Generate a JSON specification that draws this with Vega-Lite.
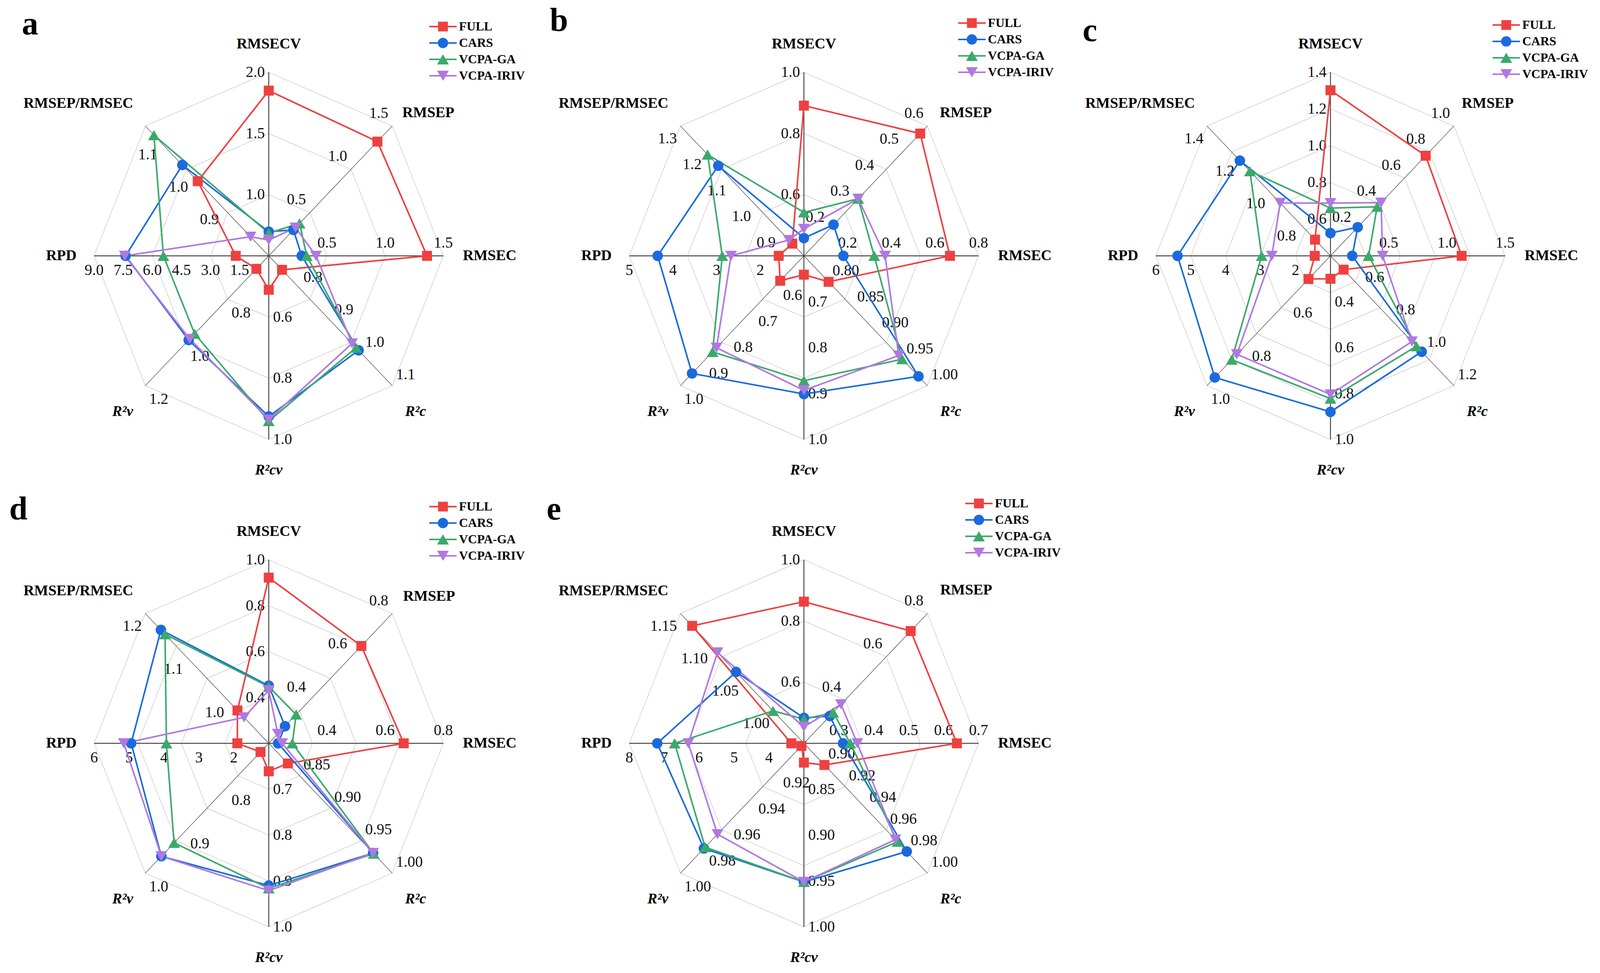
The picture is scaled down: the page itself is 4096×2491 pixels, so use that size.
{
"$schema":"https://vega.github.io/schema/vega-lite/v6.json",
"padding":0,
"background":"#ffffff",
"spacing":0,
"columns":3,
"bounds":"flush",
"config":{"view":{"stroke":null}},
"resolve":{"scale":{"stroke":"independent","fill":"independent","shape":"independent"},"legend":{"stroke":"independent","fill":"independent","shape":"independent"}},
"datasets":{
"axes":[
{"id":"a:RMSECV","p":"a","i":0,"name":"RMSECV","lo":0.5,"hi":2.0,"lv":[1,2,3]},
{"id":"a:RMSEP","p":"a","i":1,"name":"RMSEP","lo":0,"hi":1.5,"lv":[1,2,3]},
{"id":"a:RMSEC","p":"a","i":2,"name":"RMSEC","lo":0,"hi":1.5,"lv":[1,2,3]},
{"id":"a:R2c","p":"a","i":3,"name":"R²c","lo":0.7,"hi":1.1,"lv":[1,2,3]},
{"id":"a:R2cv","p":"a","i":4,"name":"R²cv","lo":0.4,"hi":1.0,"lv":[1,2,3]},
{"id":"a:R2v","p":"a","i":5,"name":"R²v","lo":0.6,"hi":1.2,"lv":[1,2,3]},
{"id":"a:RPD","p":"a","i":6,"name":"RPD","lo":0,"hi":9,"lv":[1,2,3]},
{"id":"a:RMSEP/RMSEC","p":"a","i":7,"name":"RMSEP/RMSEC","lo":0.75,"hi":1.15,"lv":[1,2,3]},
{"id":"b:RMSECV","p":"b","i":0,"name":"RMSECV","lo":0.4,"hi":1.0,"lv":[1,2,3]},
{"id":"b:RMSEP","p":"b","i":1,"name":"RMSEP","lo":0.1,"hi":0.6,"lv":[1,2,3]},
{"id":"b:RMSEC","p":"b","i":2,"name":"RMSEC","lo":0,"hi":0.8,"lv":[1,2,3]},
{"id":"b:R2c","p":"b","i":3,"name":"R²c","lo":0.75,"hi":1.0,"lv":[1,2,3]},
{"id":"b:R2cv","p":"b","i":4,"name":"R²cv","lo":0.6,"hi":1.0,"lv":[1,2,3]},
{"id":"b:R2v","p":"b","i":5,"name":"R²v","lo":0.5,"hi":1.0,"lv":[1,2,3]},
{"id":"b:RPD","p":"b","i":6,"name":"RPD","lo":1,"hi":5,"lv":[1,2,3]},
{"id":"b:RMSEP/RMSEC","p":"b","i":7,"name":"RMSEP/RMSEC","lo":0.8,"hi":1.3,"lv":[1,2,3]},
{"id":"c:RMSECV","p":"c","i":0,"name":"RMSECV","lo":0.4,"hi":1.4,"lv":[1,2,3,4,5]},
{"id":"c:RMSEP","p":"c","i":1,"name":"RMSEP","lo":0,"hi":1.0,"lv":[1,2,3,4,5]},
{"id":"c:RMSEC","p":"c","i":2,"name":"RMSEC","lo":0,"hi":1.5,"lv":[1,2,3,4,5]},
{"id":"c:R2c","p":"c","i":3,"name":"R²c","lo":0.4,"hi":1.2,"lv":[1,2,3,4,5]},
{"id":"c:R2cv","p":"c","i":4,"name":"R²cv","lo":0.2,"hi":1.0,"lv":[1,2,3,4,5]},
{"id":"c:R2v","p":"c","i":5,"name":"R²v","lo":0.4,"hi":1.0,"lv":[1,2,3,4,5]},
{"id":"c:RPD","p":"c","i":6,"name":"RPD","lo":1,"hi":6,"lv":[1,2,3,4,5]},
{"id":"c:RMSEP/RMSEC","p":"c","i":7,"name":"RMSEP/RMSEC","lo":0.6,"hi":1.4,"lv":[1,2,3,4,5]},
{"id":"d:RMSECV","p":"d","i":0,"name":"RMSECV","lo":0.2,"hi":1.0,"lv":[1,2,3,4]},
{"id":"d:RMSEP","p":"d","i":1,"name":"RMSEP","lo":0.2,"hi":0.8,"lv":[1,2,3,4]},
{"id":"d:RMSEC","p":"d","i":2,"name":"RMSEC","lo":0.2,"hi":0.8,"lv":[1,2,3,4]},
{"id":"d:R2c","p":"d","i":3,"name":"R²c","lo":0.8,"hi":1.0,"lv":[1,2,3,4]},
{"id":"d:R2cv","p":"d","i":4,"name":"R²cv","lo":0.6,"hi":1.0,"lv":[1,2,3,4]},
{"id":"d:R2v","p":"d","i":5,"name":"R²v","lo":0.7,"hi":1.0,"lv":[1,2,3,4]},
{"id":"d:RPD","p":"d","i":6,"name":"RPD","lo":1,"hi":6,"lv":[1,2,3,4]},
{"id":"d:RMSEP/RMSEC","p":"d","i":7,"name":"RMSEP/RMSEC","lo":0.9,"hi":1.2,"lv":[1,2,3,4]},
{"id":"e:RMSECV","p":"e","i":0,"name":"RMSECV","lo":0.4,"hi":1.0,"lv":[1,2,3]},
{"id":"e:RMSEP","p":"e","i":1,"name":"RMSEP","lo":0.2,"hi":0.8,"lv":[1,2,3]},
{"id":"e:RMSEC","p":"e","i":2,"name":"RMSEC","lo":0.2,"hi":0.7,"lv":[1,2,3]},
{"id":"e:R2c","p":"e","i":3,"name":"R²c","lo":0.88,"hi":1.0,"lv":[1,2,3]},
{"id":"e:R2cv","p":"e","i":4,"name":"R²cv","lo":0.8,"hi":1.0,"lv":[1,2,3]},
{"id":"e:R2v","p":"e","i":5,"name":"R²v","lo":0.9,"hi":1.0,"lv":[1,2,3]},
{"id":"e:RPD","p":"e","i":6,"name":"RPD","lo":3,"hi":8,"lv":[1,2,3]},
{"id":"e:RMSEP/RMSEC","p":"e","i":7,"name":"RMSEP/RMSEC","lo":0.95,"hi":1.15,"lv":[1,2,3]}
],
"ticks":[
{"p":"a","f":"RMSECV","t":["1.0","1.5","2.0"]},
{"p":"a","f":"RMSEP","t":["0.5","1.0","1.5"]},
{"p":"a","f":"RMSEC","t":["0.5","1.0","1.5"]},
{"p":"a","f":"R2c","t":["0.8","0.9","1.0","1.1"]},
{"p":"a","f":"R2cv","t":["0.6","0.8","1.0"]},
{"p":"a","f":"R2v","t":["0.8","1.0","1.2"]},
{"p":"a","f":"RPD","t":["1.5","3.0","4.5","6.0","7.5","9.0"]},
{"p":"a","f":"RMSEP/RMSEC","t":["0.9","1.0","1.1"]},
{"p":"b","f":"RMSECV","t":["0.6","0.8","1.0"]},
{"p":"b","f":"RMSEP","t":["0.2","0.3","0.4","0.5","0.6"]},
{"p":"b","f":"RMSEC","t":["0.2","0.4","0.6","0.8"]},
{"p":"b","f":"R2c","t":["0.80","0.85","0.90","0.95","1.00"]},
{"p":"b","f":"R2cv","t":["0.7","0.8","0.9","1.0"]},
{"p":"b","f":"R2v","t":["0.6","0.7","0.8","0.9","1.0"]},
{"p":"b","f":"RPD","t":["2","3","4","5"]},
{"p":"b","f":"RMSEP/RMSEC","t":["0.9","1.0","1.1","1.2","1.3"]},
{"p":"c","f":"RMSECV","t":["0.6","0.8","1.0","1.2","1.4"]},
{"p":"c","f":"RMSEP","t":["0.2","0.4","0.6","0.8","1.0"]},
{"p":"c","f":"RMSEC","t":["0.5","1.0","1.5"]},
{"p":"c","f":"R2c","t":["0.6","0.8","1.0","1.2"]},
{"p":"c","f":"R2cv","t":["0.4","0.6","0.8","1.0"]},
{"p":"c","f":"R2v","t":["0.6","0.8","1.0"]},
{"p":"c","f":"RPD","t":["2","3","4","5","6"]},
{"p":"c","f":"RMSEP/RMSEC","t":["0.8","1.0","1.2","1.4"]},
{"p":"d","f":"RMSECV","t":["0.4","0.6","0.8","1.0"]},
{"p":"d","f":"RMSEP","t":["0.4","0.6","0.8"]},
{"p":"d","f":"RMSEC","t":["0.4","0.6","0.8"]},
{"p":"d","f":"R2c","t":["0.85","0.90","0.95","1.00"]},
{"p":"d","f":"R2cv","t":["0.7","0.8","0.9","1.0"]},
{"p":"d","f":"R2v","t":["0.8","0.9","1.0"]},
{"p":"d","f":"RPD","t":["2","3","4","5","6"]},
{"p":"d","f":"RMSEP/RMSEC","t":["1.0","1.1","1.2"]},
{"p":"e","f":"RMSECV","t":["0.6","0.8","1.0"]},
{"p":"e","f":"RMSEP","t":["0.4","0.6","0.8"]},
{"p":"e","f":"RMSEC","t":["0.3","0.4","0.5","0.6","0.7"]},
{"p":"e","f":"R2c","t":["0.90","0.92","0.94","0.96","0.98","1.00"]},
{"p":"e","f":"R2cv","t":["0.85","0.90","0.95","1.00"]},
{"p":"e","f":"R2v","t":["0.92","0.94","0.96","0.98","1.00"]},
{"p":"e","f":"RPD","t":["4","5","6","7","8"]},
{"p":"e","f":"RMSEP/RMSEC","t":["1.00","1.05","1.10","1.15"]}
],
"metrics":[
{"p":"a","m":"FULL","RMSECV":1.85,"RMSEP":1.32,"RMSEC":1.36,"R2c":0.743,"R2cv":0.511,"R2v":0.66,"RPD":1.70,"RMSEP/RMSEC":0.98},
{"p":"a","m":"CARS","RMSECV":0.697,"RMSEP":0.30,"RMSEC":0.283,"R2c":0.991,"R2cv":0.925,"R2v":0.989,"RPD":7.38,"RMSEP/RMSEC":1.03},
{"p":"a","m":"VCPA-GA","RMSECV":0.686,"RMSEP":0.375,"RMSEC":0.326,"R2c":0.983,"R2cv":0.94,"R2v":0.96,"RPD":5.43,"RMSEP/RMSEC":1.122},
{"p":"a","m":"VCPA-IRIV","RMSECV":0.629,"RMSEP":0.326,"RMSEC":0.406,"R2c":0.970,"R2cv":0.935,"R2v":0.984,"RPD":7.42,"RMSEP/RMSEC":0.809},
{"p":"b","m":"FULL","RMSECV":0.891,"RMSEP":0.571,"RMSEC":0.669,"R2c":0.80,"R2cv":0.641,"R2v":0.596,"RPD":1.577,"RMSEP/RMSEC":0.847},
{"p":"b","m":"CARS","RMSECV":0.458,"RMSEP":0.22,"RMSEC":0.181,"R2c":0.982,"R2cv":0.901,"R2v":0.953,"RPD":4.35,"RMSEP/RMSEC":1.147},
{"p":"b","m":"VCPA-GA","RMSECV":0.542,"RMSEP":0.32,"RMSEC":0.322,"R2c":0.949,"R2cv":0.872,"R2v":0.87,"RPD":2.87,"RMSEP/RMSEC":1.19},
{"p":"b","m":"VCPA-IRIV","RMSECV":0.488,"RMSEP":0.32,"RMSEC":0.372,"R2c":0.942,"R2cv":0.893,"R2v":0.854,"RPD":2.67,"RMSEP/RMSEC":0.861},
{"p":"c","m":"FULL","RMSECV":1.302,"RMSEP":0.771,"RMSEC":1.127,"R2c":0.485,"R2cv":0.30,"R2v":0.507,"RPD":1.45,"RMSEP/RMSEC":0.70},
{"p":"c","m":"CARS","RMSECV":0.524,"RMSEP":0.221,"RMSEC":0.187,"R2c":0.991,"R2cv":0.88,"R2v":0.962,"RPD":5.38,"RMSEP/RMSEC":1.187},
{"p":"c","m":"VCPA-GA","RMSECV":0.66,"RMSEP":0.378,"RMSEC":0.328,"R2c":0.957,"R2cv":0.822,"R2v":0.88,"RPD":2.97,"RMSEP/RMSEC":1.122},
{"p":"c","m":"VCPA-IRIV","RMSECV":0.687,"RMSEP":0.41,"RMSEC":0.448,"R2c":0.928,"R2cv":0.804,"R2v":0.855,"RPD":2.68,"RMSEP/RMSEC":0.926},
{"p":"d","m":"FULL","RMSECV":0.922,"RMSEP":0.65,"RMSEC":0.664,"R2c":0.831,"R2cv":0.661,"R2v":0.72,"RPD":1.9,"RMSEP/RMSEC":0.976},
{"p":"d","m":"CARS","RMSECV":0.451,"RMSEP":0.279,"RMSEC":0.232,"R2c":0.969,"R2cv":0.91,"R2v":0.961,"RPD":4.94,"RMSEP/RMSEC":1.162},
{"p":"d","m":"VCPA-GA","RMSECV":0.447,"RMSEP":0.333,"RMSEC":0.281,"R2c":0.97,"R2cv":0.916,"R2v":0.93,"RPD":3.93,"RMSEP/RMSEC":1.152},
{"p":"d","m":"VCPA-IRIV","RMSECV":0.431,"RMSEP":0.244,"RMSEC":0.246,"R2c":0.969,"R2cv":0.921,"R2v":0.961,"RPD":5.15,"RMSEP/RMSEC":0.96},
{"p":"e","m":"FULL","RMSECV":0.863,"RMSEP":0.719,"RMSEC":0.638,"R2c":0.90,"R2cv":0.821,"R2v":0.902,"RPD":3.36,"RMSEP/RMSEC":1.131},
{"p":"e","m":"CARS","RMSECV":0.483,"RMSEP":0.326,"RMSEC":0.312,"R2c":0.98,"R2cv":0.951,"R2v":0.981,"RPD":7.2,"RMSEP/RMSEC":1.06},
{"p":"e","m":"VCPA-GA","RMSECV":0.479,"RMSEP":0.342,"RMSEC":0.333,"R2c":0.971,"R2cv":0.951,"R2v":0.98,"RPD":6.7,"RMSEP/RMSEC":1.0},
{"p":"e","m":"VCPA-IRIV","RMSECV":0.454,"RMSEP":0.38,"RMSEC":0.353,"R2c":0.969,"R2cv":0.951,"R2v":0.97,"RPD":6.31,"RMSEP/RMSEC":1.09}
]
},
"concat":[
{"width":1370,"height":1248,
"encoding":{"x":{"field":"x","type":"quantitative","scale":{"domain":[-1.53915,1.52573],"nice":false,"zero":false},"axis":null},"y":{"field":"y","type":"quantitative","scale":{"domain":[-1.2617,1.39362],"nice":false,"zero":false},"axis":null}},
"layer":[
{"data":{"name":"axes"},"transform":[{"filter":"datum.p === 'a'"},{"flatten":["lv"]},{"joinaggregate":[{"op":"max","field":"lv","as":"g"}]},{"calculate":"datum.lv / datum.g * sin(datum.i * PI / 4)","as":"x"},{"calculate":"datum.lv / datum.g * cos(datum.i * PI / 4)","as":"y"}],"mark":{"type":"line","interpolate":"linear-closed","stroke":"#c6c6c6","strokeWidth":1.3},"encoding":{"detail":{"field":"lv","type":"nominal"},"order":{"field":"i","type":"quantitative"}}},
{"data":{"name":"axes"},"transform":[{"filter":"datum.p === 'a'"},{"calculate":"sin(datum.i * PI / 4)","as":"x"},{"calculate":"cos(datum.i * PI / 4)","as":"y"}],"mark":{"type":"rule","color":"#444444"},"encoding":{"x2":{"datum":0},"y2":{"datum":0},"strokeWidth":{"condition":{"test":"datum.i % 2 === 0","value":2.4},"value":1.3}}},
{"data":{"name":"ticks"},"transform":[{"filter":"datum.p === 'a'"},{"flatten":["t"]},{"calculate":"datum.p + ':' + datum.f","as":"id"},{"lookup":"id","from":{"data":{"name":"axes"},"key":"id","fields":["i","lo","hi"]}},{"calculate":"(toNumber(datum.t) - datum.lo) / (datum.hi - datum.lo)","as":"r"},{"calculate":"[-10,-10,0,10,11,10,0,-9][datum.i]","as":"ox"},{"calculate":"[0,-33,-33,-28,0,35,37,32][datum.i]","as":"oy"},{"calculate":"datum.r * sin(datum.i * PI / 4) + datum.ox / 447","as":"x"},{"calculate":"datum.r * cos(datum.i * PI / 4) - datum.oy / 470","as":"y"}],"encoding":{"text":{"field":"t","type":"nominal"}},"layer":[
{"transform":[{"filter":"datum.i === 0 || datum.i === 1 || datum.i === 7"}],"mark":{"type":"text","align":"right","baseline":"middle","font":"Liberation Serif","fontSize":39,"color":"#111111"}},
{"transform":[{"filter":"datum.i === 3 || datum.i === 4 || datum.i === 5"}],"mark":{"type":"text","align":"left","baseline":"middle","font":"Liberation Serif","fontSize":39,"color":"#111111"}},
{"transform":[{"filter":"datum.i === 2 || datum.i === 6"}],"mark":{"type":"text","align":"center","baseline":"middle","font":"Liberation Serif","fontSize":39,"color":"#111111"}}]},
{"data":{"name":"axes"},"transform":[{"filter":"datum.p === 'a'"},{"calculate":"[0,26,50,33,0,-31,-45,-31][datum.i]","as":"ox"},{"calculate":"[-72,-34,0,67,79,67,0,-58][datum.i]","as":"oy"},{"calculate":"sin(datum.i * PI / 4) + datum.ox / 447","as":"x"},{"calculate":"cos(datum.i * PI / 4) - datum.oy / 470","as":"y"}],"encoding":{"text":{"field":"name","type":"nominal"}},"layer":[
{"transform":[{"filter":"datum.i === 0"}],"mark":{"type":"text","align":"center","baseline":"middle","font":"Liberation Serif","fontSize":38,"fontWeight":"bold","color":"#000000"}},
{"transform":[{"filter":"datum.i === 4"}],"mark":{"type":"text","align":"center","baseline":"middle","font":"Liberation Serif","fontSize":38,"fontWeight":"bold","fontStyle":"italic","color":"#000000"}},
{"transform":[{"filter":"datum.i === 1 || datum.i === 2"}],"mark":{"type":"text","align":"left","baseline":"middle","font":"Liberation Serif","fontSize":38,"fontWeight":"bold","color":"#000000"}},
{"transform":[{"filter":"datum.i === 3"}],"mark":{"type":"text","align":"left","baseline":"middle","font":"Liberation Serif","fontSize":38,"fontWeight":"bold","fontStyle":"italic","color":"#000000"}},
{"transform":[{"filter":"datum.i === 6 || datum.i === 7"}],"mark":{"type":"text","align":"right","baseline":"middle","font":"Liberation Serif","fontSize":38,"fontWeight":"bold","color":"#000000"}},
{"transform":[{"filter":"datum.i === 5"}],"mark":{"type":"text","align":"right","baseline":"middle","font":"Liberation Serif","fontSize":38,"fontWeight":"bold","fontStyle":"italic","color":"#000000"}}]},
{"data":{"values":[{"t":"a"}]},"transform":[{"calculate":"-1.367","as":"x"},{"calculate":"1.206","as":"y"}],"mark":{"type":"text","font":"Liberation Serif","fontSize":84,"fontWeight":"bold","align":"center","baseline":"alphabetic","color":"#000000"},"encoding":{"text":{"field":"t","type":"nominal"}}},
{"data":{"name":"metrics"},"transform":[{"filter":"datum.p === 'a'"},{"fold":["RMSECV","RMSEP","RMSEC","R2c","R2cv","R2v","RPD","RMSEP/RMSEC"],"as":["f","v"]},{"calculate":"datum.p + ':' + datum.f","as":"id"},{"lookup":"id","from":{"data":{"name":"axes"},"key":"id","fields":["i","lo","hi"]}},{"calculate":"(datum.v - datum.lo) / (datum.hi - datum.lo)","as":"r"},{"calculate":"datum.r * sin(datum.i * PI / 4)","as":"x"},{"calculate":"datum.r * cos(datum.i * PI / 4)","as":"y"}],"layer":[
{"mark":{"type":"point","filled":true,"opacity":0,"size":4900},"encoding":{"fill":{"field":"m","type":"nominal","title":null,"scale":{"domain":["FULL","CARS","VCPA-GA","VCPA-IRIV"],"range":["#EF4040","#1A6ADE","#3AAA6A","#B078E0"]},"legend":{"orient":"none","legendX":1099,"legendY":52,"symbolSize":4900,"symbolStrokeWidth":0,"symbolOpacity":1,"clipHeight":32,"labelFont":"Liberation Serif","labelFontSize":32,"labelFontWeight":"bold","labelColor":"#000000","labelOffset":6,"labelLimit":0,"rowPadding":10,"padding":0}},"shape":{"field":"m","type":"nominal","title":null,"scale":{"domain":["FULL","CARS","VCPA-GA","VCPA-IRIV"],"range":["M-1,-0.057H1V0.057H-1Z M-0.36,-0.36H0.36V0.36H-0.36Z","M-1,-0.057H1V0.057H-1Z M-0.38,0A0.38,0.38 0 1,1 0.38,0A0.38,0.38 0 1,1 -0.38,0Z","M-1,-0.057H1V0.057H-1Z M0,-0.37L0.43,0.37L-0.43,0.37Z","M-1,-0.057H1V0.057H-1Z M0,0.37L-0.43,-0.37L0.43,-0.37Z"]},"legend":{"orient":"none","legendX":1099,"legendY":52,"symbolSize":4900,"symbolStrokeWidth":0,"symbolOpacity":1,"clipHeight":32,"labelFont":"Liberation Serif","labelFontSize":32,"labelFontWeight":"bold","labelColor":"#000000","labelOffset":6,"labelLimit":0,"rowPadding":10,"padding":0}}}},
{"mark":{"type":"line","interpolate":"linear-closed","strokeWidth":4},"encoding":{"stroke":{"field":"m","type":"nominal","scale":{"domain":["FULL","CARS","VCPA-GA","VCPA-IRIV"],"range":["#EF4040","#1A6ADE","#3AAA6A","#B078E0"]},"legend":null},"order":{"field":"i","type":"quantitative"}}},
{"transform":[{"filter":"datum.m === 'FULL'"}],"mark":{"type":"point","shape":"square","filled":true,"opacity":1,"size":650,"color":"#EF4040","strokeWidth":0}},
{"transform":[{"filter":"datum.m === 'CARS'"}],"mark":{"type":"point","shape":"circle","filled":true,"opacity":1,"size":720,"color":"#1A6ADE","strokeWidth":0}},
{"transform":[{"filter":"datum.m === 'VCPA-GA'"}],"mark":{"type":"point","shape":"triangle-up","filled":true,"opacity":1,"size":900,"color":"#3AAA6A","strokeWidth":0}},
{"transform":[{"filter":"datum.m === 'VCPA-IRIV'"}],"mark":{"type":"point","shape":"triangle-down","filled":true,"opacity":1,"size":900,"color":"#B078E0","strokeWidth":0}}]}
]},
{"width":1348,"height":1248,
"encoding":{"x":{"field":"x","type":"quantitative","scale":{"domain":[-1.53915,1.47651],"nice":false,"zero":false},"axis":null},"y":{"field":"y","type":"quantitative","scale":{"domain":[-1.2617,1.39362],"nice":false,"zero":false},"axis":null}},
"layer":[
{"data":{"name":"axes"},"transform":[{"filter":"datum.p === 'b'"},{"flatten":["lv"]},{"joinaggregate":[{"op":"max","field":"lv","as":"g"}]},{"calculate":"datum.lv / datum.g * sin(datum.i * PI / 4)","as":"x"},{"calculate":"datum.lv / datum.g * cos(datum.i * PI / 4)","as":"y"}],"mark":{"type":"line","interpolate":"linear-closed","stroke":"#c6c6c6","strokeWidth":1.3},"encoding":{"detail":{"field":"lv","type":"nominal"},"order":{"field":"i","type":"quantitative"}}},
{"data":{"name":"axes"},"transform":[{"filter":"datum.p === 'b'"},{"calculate":"sin(datum.i * PI / 4)","as":"x"},{"calculate":"cos(datum.i * PI / 4)","as":"y"}],"mark":{"type":"rule","color":"#444444"},"encoding":{"x2":{"datum":0},"y2":{"datum":0},"strokeWidth":{"condition":{"test":"datum.i % 2 === 0","value":2.4},"value":1.3}}},
{"data":{"name":"ticks"},"transform":[{"filter":"datum.p === 'b'"},{"flatten":["t"]},{"calculate":"datum.p + ':' + datum.f","as":"id"},{"lookup":"id","from":{"data":{"name":"axes"},"key":"id","fields":["i","lo","hi"]}},{"calculate":"(toNumber(datum.t) - datum.lo) / (datum.hi - datum.lo)","as":"r"},{"calculate":"[-10,-10,0,10,11,10,0,-9][datum.i]","as":"ox"},{"calculate":"[0,-33,-33,-28,0,35,37,32][datum.i]","as":"oy"},{"calculate":"datum.r * sin(datum.i * PI / 4) + datum.ox / 447","as":"x"},{"calculate":"datum.r * cos(datum.i * PI / 4) - datum.oy / 470","as":"y"}],"encoding":{"text":{"field":"t","type":"nominal"}},"layer":[
{"transform":[{"filter":"datum.i === 0 || datum.i === 1 || datum.i === 7"}],"mark":{"type":"text","align":"right","baseline":"middle","font":"Liberation Serif","fontSize":39,"color":"#111111"}},
{"transform":[{"filter":"datum.i === 3 || datum.i === 4 || datum.i === 5"}],"mark":{"type":"text","align":"left","baseline":"middle","font":"Liberation Serif","fontSize":39,"color":"#111111"}},
{"transform":[{"filter":"datum.i === 2 || datum.i === 6"}],"mark":{"type":"text","align":"center","baseline":"middle","font":"Liberation Serif","fontSize":39,"color":"#111111"}}]},
{"data":{"name":"axes"},"transform":[{"filter":"datum.p === 'b'"},{"calculate":"[0,32,50,33,0,-31,-45,-31][datum.i]","as":"ox"},{"calculate":"[-72,-34,0,67,79,67,0,-58][datum.i]","as":"oy"},{"calculate":"sin(datum.i * PI / 4) + datum.ox / 447","as":"x"},{"calculate":"cos(datum.i * PI / 4) - datum.oy / 470","as":"y"}],"encoding":{"text":{"field":"name","type":"nominal"}},"layer":[
{"transform":[{"filter":"datum.i === 0"}],"mark":{"type":"text","align":"center","baseline":"middle","font":"Liberation Serif","fontSize":38,"fontWeight":"bold","color":"#000000"}},
{"transform":[{"filter":"datum.i === 4"}],"mark":{"type":"text","align":"center","baseline":"middle","font":"Liberation Serif","fontSize":38,"fontWeight":"bold","fontStyle":"italic","color":"#000000"}},
{"transform":[{"filter":"datum.i === 1 || datum.i === 2"}],"mark":{"type":"text","align":"left","baseline":"middle","font":"Liberation Serif","fontSize":38,"fontWeight":"bold","color":"#000000"}},
{"transform":[{"filter":"datum.i === 3"}],"mark":{"type":"text","align":"left","baseline":"middle","font":"Liberation Serif","fontSize":38,"fontWeight":"bold","fontStyle":"italic","color":"#000000"}},
{"transform":[{"filter":"datum.i === 6 || datum.i === 7"}],"mark":{"type":"text","align":"right","baseline":"middle","font":"Liberation Serif","fontSize":38,"fontWeight":"bold","color":"#000000"}},
{"transform":[{"filter":"datum.i === 5"}],"mark":{"type":"text","align":"right","baseline":"middle","font":"Liberation Serif","fontSize":38,"fontWeight":"bold","fontStyle":"italic","color":"#000000"}}]},
{"data":{"values":[{"t":"b"}]},"transform":[{"calculate":"-1.403","as":"x"},{"calculate":"1.225","as":"y"}],"mark":{"type":"text","font":"Liberation Serif","fontSize":84,"fontWeight":"bold","align":"center","baseline":"alphabetic","color":"#000000"},"encoding":{"text":{"field":"t","type":"nominal"}}},
{"data":{"name":"metrics"},"transform":[{"filter":"datum.p === 'b'"},{"fold":["RMSECV","RMSEP","RMSEC","R2c","R2cv","R2v","RPD","RMSEP/RMSEC"],"as":["f","v"]},{"calculate":"datum.p + ':' + datum.f","as":"id"},{"lookup":"id","from":{"data":{"name":"axes"},"key":"id","fields":["i","lo","hi"]}},{"calculate":"(datum.v - datum.lo) / (datum.hi - datum.lo)","as":"r"},{"calculate":"datum.r * sin(datum.i * PI / 4)","as":"x"},{"calculate":"datum.r * cos(datum.i * PI / 4)","as":"y"}],"layer":[
{"mark":{"type":"point","filled":true,"opacity":0,"size":4900},"encoding":{"fill":{"field":"m","type":"nominal","title":null,"scale":{"domain":["FULL","CARS","VCPA-GA","VCPA-IRIV"],"range":["#EF4040","#1A6ADE","#3AAA6A","#B078E0"]},"legend":{"orient":"none","legendX":1083,"legendY":43,"symbolSize":4900,"symbolStrokeWidth":0,"symbolOpacity":1,"clipHeight":32,"labelFont":"Liberation Serif","labelFontSize":32,"labelFontWeight":"bold","labelColor":"#000000","labelOffset":6,"labelLimit":0,"rowPadding":10,"padding":0}},"shape":{"field":"m","type":"nominal","title":null,"scale":{"domain":["FULL","CARS","VCPA-GA","VCPA-IRIV"],"range":["M-1,-0.057H1V0.057H-1Z M-0.36,-0.36H0.36V0.36H-0.36Z","M-1,-0.057H1V0.057H-1Z M-0.38,0A0.38,0.38 0 1,1 0.38,0A0.38,0.38 0 1,1 -0.38,0Z","M-1,-0.057H1V0.057H-1Z M0,-0.37L0.43,0.37L-0.43,0.37Z","M-1,-0.057H1V0.057H-1Z M0,0.37L-0.43,-0.37L0.43,-0.37Z"]},"legend":{"orient":"none","legendX":1083,"legendY":43,"symbolSize":4900,"symbolStrokeWidth":0,"symbolOpacity":1,"clipHeight":32,"labelFont":"Liberation Serif","labelFontSize":32,"labelFontWeight":"bold","labelColor":"#000000","labelOffset":6,"labelLimit":0,"rowPadding":10,"padding":0}}}},
{"mark":{"type":"line","interpolate":"linear-closed","strokeWidth":4},"encoding":{"stroke":{"field":"m","type":"nominal","scale":{"domain":["FULL","CARS","VCPA-GA","VCPA-IRIV"],"range":["#EF4040","#1A6ADE","#3AAA6A","#B078E0"]},"legend":null},"order":{"field":"i","type":"quantitative"}}},
{"transform":[{"filter":"datum.m === 'FULL'"}],"mark":{"type":"point","shape":"square","filled":true,"opacity":1,"size":650,"color":"#EF4040","strokeWidth":0}},
{"transform":[{"filter":"datum.m === 'CARS'"}],"mark":{"type":"point","shape":"circle","filled":true,"opacity":1,"size":720,"color":"#1A6ADE","strokeWidth":0}},
{"transform":[{"filter":"datum.m === 'VCPA-GA'"}],"mark":{"type":"point","shape":"triangle-up","filled":true,"opacity":1,"size":900,"color":"#3AAA6A","strokeWidth":0}},
{"transform":[{"filter":"datum.m === 'VCPA-IRIV'"}],"mark":{"type":"point","shape":"triangle-down","filled":true,"opacity":1,"size":900,"color":"#B078E0","strokeWidth":0}}]}
]},
{"width":1378,"height":1248,
"encoding":{"x":{"field":"x","type":"quantitative","scale":{"domain":[-1.53915,1.54362],"nice":false,"zero":false},"axis":null},"y":{"field":"y","type":"quantitative","scale":{"domain":[-1.2617,1.39362],"nice":false,"zero":false},"axis":null}},
"layer":[
{"data":{"name":"axes"},"transform":[{"filter":"datum.p === 'c'"},{"flatten":["lv"]},{"joinaggregate":[{"op":"max","field":"lv","as":"g"}]},{"calculate":"datum.lv / datum.g * sin(datum.i * PI / 4)","as":"x"},{"calculate":"datum.lv / datum.g * cos(datum.i * PI / 4)","as":"y"}],"mark":{"type":"line","interpolate":"linear-closed","stroke":"#c6c6c6","strokeWidth":1.3},"encoding":{"detail":{"field":"lv","type":"nominal"},"order":{"field":"i","type":"quantitative"}}},
{"data":{"name":"axes"},"transform":[{"filter":"datum.p === 'c'"},{"calculate":"sin(datum.i * PI / 4)","as":"x"},{"calculate":"cos(datum.i * PI / 4)","as":"y"}],"mark":{"type":"rule","color":"#444444"},"encoding":{"x2":{"datum":0},"y2":{"datum":0},"strokeWidth":{"condition":{"test":"datum.i % 2 === 0","value":2.4},"value":1.3}}},
{"data":{"name":"ticks"},"transform":[{"filter":"datum.p === 'c'"},{"flatten":["t"]},{"calculate":"datum.p + ':' + datum.f","as":"id"},{"lookup":"id","from":{"data":{"name":"axes"},"key":"id","fields":["i","lo","hi"]}},{"calculate":"(toNumber(datum.t) - datum.lo) / (datum.hi - datum.lo)","as":"r"},{"calculate":"[-10,-10,0,10,11,10,0,-9][datum.i]","as":"ox"},{"calculate":"[0,-33,-33,-28,0,35,37,32][datum.i]","as":"oy"},{"calculate":"datum.r * sin(datum.i * PI / 4) + datum.ox / 447","as":"x"},{"calculate":"datum.r * cos(datum.i * PI / 4) - datum.oy / 470","as":"y"}],"encoding":{"text":{"field":"t","type":"nominal"}},"layer":[
{"transform":[{"filter":"datum.i === 0 || datum.i === 1 || datum.i === 7"}],"mark":{"type":"text","align":"right","baseline":"middle","font":"Liberation Serif","fontSize":39,"color":"#111111"}},
{"transform":[{"filter":"datum.i === 3 || datum.i === 4 || datum.i === 5"}],"mark":{"type":"text","align":"left","baseline":"middle","font":"Liberation Serif","fontSize":39,"color":"#111111"}},
{"transform":[{"filter":"datum.i === 2 || datum.i === 6"}],"mark":{"type":"text","align":"center","baseline":"middle","font":"Liberation Serif","fontSize":39,"color":"#111111"}}]},
{"data":{"name":"axes"},"transform":[{"filter":"datum.p === 'c'"},{"calculate":"[0,20,50,33,0,-31,-45,-31][datum.i]","as":"ox"},{"calculate":"[-72,-58,0,67,79,67,0,-58][datum.i]","as":"oy"},{"calculate":"sin(datum.i * PI / 4) + datum.ox / 447","as":"x"},{"calculate":"cos(datum.i * PI / 4) - datum.oy / 470","as":"y"}],"encoding":{"text":{"field":"name","type":"nominal"}},"layer":[
{"transform":[{"filter":"datum.i === 0"}],"mark":{"type":"text","align":"center","baseline":"middle","font":"Liberation Serif","fontSize":38,"fontWeight":"bold","color":"#000000"}},
{"transform":[{"filter":"datum.i === 4"}],"mark":{"type":"text","align":"center","baseline":"middle","font":"Liberation Serif","fontSize":38,"fontWeight":"bold","fontStyle":"italic","color":"#000000"}},
{"transform":[{"filter":"datum.i === 1 || datum.i === 2"}],"mark":{"type":"text","align":"left","baseline":"middle","font":"Liberation Serif","fontSize":38,"fontWeight":"bold","color":"#000000"}},
{"transform":[{"filter":"datum.i === 3"}],"mark":{"type":"text","align":"left","baseline":"middle","font":"Liberation Serif","fontSize":38,"fontWeight":"bold","fontStyle":"italic","color":"#000000"}},
{"transform":[{"filter":"datum.i === 6 || datum.i === 7"}],"mark":{"type":"text","align":"right","baseline":"middle","font":"Liberation Serif","fontSize":38,"fontWeight":"bold","color":"#000000"}},
{"transform":[{"filter":"datum.i === 5"}],"mark":{"type":"text","align":"right","baseline":"middle","font":"Liberation Serif","fontSize":38,"fontWeight":"bold","fontStyle":"italic","color":"#000000"}}]},
{"data":{"values":[{"t":"c"}]},"transform":[{"calculate":"-1.378","as":"x"},{"calculate":"1.17","as":"y"}],"mark":{"type":"text","font":"Liberation Serif","fontSize":84,"fontWeight":"bold","align":"center","baseline":"alphabetic","color":"#000000"},"encoding":{"text":{"field":"t","type":"nominal"}}},
{"data":{"name":"metrics"},"transform":[{"filter":"datum.p === 'c'"},{"fold":["RMSECV","RMSEP","RMSEC","R2c","R2cv","R2v","RPD","RMSEP/RMSEC"],"as":["f","v"]},{"calculate":"datum.p + ':' + datum.f","as":"id"},{"lookup":"id","from":{"data":{"name":"axes"},"key":"id","fields":["i","lo","hi"]}},{"calculate":"(datum.v - datum.lo) / (datum.hi - datum.lo)","as":"r"},{"calculate":"datum.r * sin(datum.i * PI / 4)","as":"x"},{"calculate":"datum.r * cos(datum.i * PI / 4)","as":"y"}],"layer":[
{"mark":{"type":"point","filled":true,"opacity":0,"size":4900},"encoding":{"fill":{"field":"m","type":"nominal","title":null,"scale":{"domain":["FULL","CARS","VCPA-GA","VCPA-IRIV"],"range":["#EF4040","#1A6ADE","#3AAA6A","#B078E0"]},"legend":{"orient":"none","legendX":1103,"legendY":48,"symbolSize":4900,"symbolStrokeWidth":0,"symbolOpacity":1,"clipHeight":32,"labelFont":"Liberation Serif","labelFontSize":32,"labelFontWeight":"bold","labelColor":"#000000","labelOffset":6,"labelLimit":0,"rowPadding":10,"padding":0}},"shape":{"field":"m","type":"nominal","title":null,"scale":{"domain":["FULL","CARS","VCPA-GA","VCPA-IRIV"],"range":["M-1,-0.057H1V0.057H-1Z M-0.36,-0.36H0.36V0.36H-0.36Z","M-1,-0.057H1V0.057H-1Z M-0.38,0A0.38,0.38 0 1,1 0.38,0A0.38,0.38 0 1,1 -0.38,0Z","M-1,-0.057H1V0.057H-1Z M0,-0.37L0.43,0.37L-0.43,0.37Z","M-1,-0.057H1V0.057H-1Z M0,0.37L-0.43,-0.37L0.43,-0.37Z"]},"legend":{"orient":"none","legendX":1103,"legendY":48,"symbolSize":4900,"symbolStrokeWidth":0,"symbolOpacity":1,"clipHeight":32,"labelFont":"Liberation Serif","labelFontSize":32,"labelFontWeight":"bold","labelColor":"#000000","labelOffset":6,"labelLimit":0,"rowPadding":10,"padding":0}}}},
{"mark":{"type":"line","interpolate":"linear-closed","strokeWidth":4},"encoding":{"stroke":{"field":"m","type":"nominal","scale":{"domain":["FULL","CARS","VCPA-GA","VCPA-IRIV"],"range":["#EF4040","#1A6ADE","#3AAA6A","#B078E0"]},"legend":null},"order":{"field":"i","type":"quantitative"}}},
{"transform":[{"filter":"datum.m === 'FULL'"}],"mark":{"type":"point","shape":"square","filled":true,"opacity":1,"size":650,"color":"#EF4040","strokeWidth":0}},
{"transform":[{"filter":"datum.m === 'CARS'"}],"mark":{"type":"point","shape":"circle","filled":true,"opacity":1,"size":720,"color":"#1A6ADE","strokeWidth":0}},
{"transform":[{"filter":"datum.m === 'VCPA-GA'"}],"mark":{"type":"point","shape":"triangle-up","filled":true,"opacity":1,"size":900,"color":"#3AAA6A","strokeWidth":0}},
{"transform":[{"filter":"datum.m === 'VCPA-IRIV'"}],"mark":{"type":"point","shape":"triangle-down","filled":true,"opacity":1,"size":900,"color":"#B078E0","strokeWidth":0}}]}
]},
{"width":1370,"height":1243,
"encoding":{"x":{"field":"x","type":"quantitative","scale":{"domain":[-1.53915,1.52573],"nice":false,"zero":false},"axis":null},"y":{"field":"y","type":"quantitative","scale":{"domain":[-1.25106,1.39362],"nice":false,"zero":false},"axis":null}},
"layer":[
{"data":{"name":"axes"},"transform":[{"filter":"datum.p === 'd'"},{"flatten":["lv"]},{"joinaggregate":[{"op":"max","field":"lv","as":"g"}]},{"calculate":"datum.lv / datum.g * sin(datum.i * PI / 4)","as":"x"},{"calculate":"datum.lv / datum.g * cos(datum.i * PI / 4)","as":"y"}],"mark":{"type":"line","interpolate":"linear-closed","stroke":"#c6c6c6","strokeWidth":1.3},"encoding":{"detail":{"field":"lv","type":"nominal"},"order":{"field":"i","type":"quantitative"}}},
{"data":{"name":"axes"},"transform":[{"filter":"datum.p === 'd'"},{"calculate":"sin(datum.i * PI / 4)","as":"x"},{"calculate":"cos(datum.i * PI / 4)","as":"y"}],"mark":{"type":"rule","color":"#444444"},"encoding":{"x2":{"datum":0},"y2":{"datum":0},"strokeWidth":{"condition":{"test":"datum.i % 2 === 0","value":2.4},"value":1.3}}},
{"data":{"name":"ticks"},"transform":[{"filter":"datum.p === 'd'"},{"flatten":["t"]},{"calculate":"datum.p + ':' + datum.f","as":"id"},{"lookup":"id","from":{"data":{"name":"axes"},"key":"id","fields":["i","lo","hi"]}},{"calculate":"(toNumber(datum.t) - datum.lo) / (datum.hi - datum.lo)","as":"r"},{"calculate":"[-10,-10,0,10,11,10,0,-9][datum.i]","as":"ox"},{"calculate":"[0,-33,-33,-28,0,35,37,32][datum.i]","as":"oy"},{"calculate":"datum.r * sin(datum.i * PI / 4) + datum.ox / 447","as":"x"},{"calculate":"datum.r * cos(datum.i * PI / 4) - datum.oy / 470","as":"y"}],"encoding":{"text":{"field":"t","type":"nominal"}},"layer":[
{"transform":[{"filter":"datum.i === 0 || datum.i === 1 || datum.i === 7"}],"mark":{"type":"text","align":"right","baseline":"middle","font":"Liberation Serif","fontSize":39,"color":"#111111"}},
{"transform":[{"filter":"datum.i === 3 || datum.i === 4 || datum.i === 5"}],"mark":{"type":"text","align":"left","baseline":"middle","font":"Liberation Serif","fontSize":39,"color":"#111111"}},
{"transform":[{"filter":"datum.i === 2 || datum.i === 6"}],"mark":{"type":"text","align":"center","baseline":"middle","font":"Liberation Serif","fontSize":39,"color":"#111111"}}]},
{"data":{"name":"axes"},"transform":[{"filter":"datum.p === 'd'"},{"calculate":"[0,28,50,33,0,-31,-45,-31][datum.i]","as":"ox"},{"calculate":"[-72,-44,0,67,79,67,0,-58][datum.i]","as":"oy"},{"calculate":"sin(datum.i * PI / 4) + datum.ox / 447","as":"x"},{"calculate":"cos(datum.i * PI / 4) - datum.oy / 470","as":"y"}],"encoding":{"text":{"field":"name","type":"nominal"}},"layer":[
{"transform":[{"filter":"datum.i === 0"}],"mark":{"type":"text","align":"center","baseline":"middle","font":"Liberation Serif","fontSize":38,"fontWeight":"bold","color":"#000000"}},
{"transform":[{"filter":"datum.i === 4"}],"mark":{"type":"text","align":"center","baseline":"middle","font":"Liberation Serif","fontSize":38,"fontWeight":"bold","fontStyle":"italic","color":"#000000"}},
{"transform":[{"filter":"datum.i === 1 || datum.i === 2"}],"mark":{"type":"text","align":"left","baseline":"middle","font":"Liberation Serif","fontSize":38,"fontWeight":"bold","color":"#000000"}},
{"transform":[{"filter":"datum.i === 3"}],"mark":{"type":"text","align":"left","baseline":"middle","font":"Liberation Serif","fontSize":38,"fontWeight":"bold","fontStyle":"italic","color":"#000000"}},
{"transform":[{"filter":"datum.i === 6 || datum.i === 7"}],"mark":{"type":"text","align":"right","baseline":"middle","font":"Liberation Serif","fontSize":38,"fontWeight":"bold","color":"#000000"}},
{"transform":[{"filter":"datum.i === 5"}],"mark":{"type":"text","align":"right","baseline":"middle","font":"Liberation Serif","fontSize":38,"fontWeight":"bold","fontStyle":"italic","color":"#000000"}}]},
{"data":{"values":[{"t":"d"}]},"transform":[{"calculate":"-1.434","as":"x"},{"calculate":"1.22","as":"y"}],"mark":{"type":"text","font":"Liberation Serif","fontSize":84,"fontWeight":"bold","align":"center","baseline":"alphabetic","color":"#000000"},"encoding":{"text":{"field":"t","type":"nominal"}}},
{"data":{"name":"metrics"},"transform":[{"filter":"datum.p === 'd'"},{"fold":["RMSECV","RMSEP","RMSEC","R2c","R2cv","R2v","RPD","RMSEP/RMSEC"],"as":["f","v"]},{"calculate":"datum.p + ':' + datum.f","as":"id"},{"lookup":"id","from":{"data":{"name":"axes"},"key":"id","fields":["i","lo","hi"]}},{"calculate":"(datum.v - datum.lo) / (datum.hi - datum.lo)","as":"r"},{"calculate":"datum.r * sin(datum.i * PI / 4)","as":"x"},{"calculate":"datum.r * cos(datum.i * PI / 4)","as":"y"}],"layer":[
{"mark":{"type":"point","filled":true,"opacity":0,"size":4900},"encoding":{"fill":{"field":"m","type":"nominal","title":null,"scale":{"domain":["FULL","CARS","VCPA-GA","VCPA-IRIV"],"range":["#EF4040","#1A6ADE","#3AAA6A","#B078E0"]},"legend":{"orient":"none","legendX":1099,"legendY":33,"symbolSize":4900,"symbolStrokeWidth":0,"symbolOpacity":1,"clipHeight":32,"labelFont":"Liberation Serif","labelFontSize":32,"labelFontWeight":"bold","labelColor":"#000000","labelOffset":6,"labelLimit":0,"rowPadding":10,"padding":0}},"shape":{"field":"m","type":"nominal","title":null,"scale":{"domain":["FULL","CARS","VCPA-GA","VCPA-IRIV"],"range":["M-1,-0.057H1V0.057H-1Z M-0.36,-0.36H0.36V0.36H-0.36Z","M-1,-0.057H1V0.057H-1Z M-0.38,0A0.38,0.38 0 1,1 0.38,0A0.38,0.38 0 1,1 -0.38,0Z","M-1,-0.057H1V0.057H-1Z M0,-0.37L0.43,0.37L-0.43,0.37Z","M-1,-0.057H1V0.057H-1Z M0,0.37L-0.43,-0.37L0.43,-0.37Z"]},"legend":{"orient":"none","legendX":1099,"legendY":33,"symbolSize":4900,"symbolStrokeWidth":0,"symbolOpacity":1,"clipHeight":32,"labelFont":"Liberation Serif","labelFontSize":32,"labelFontWeight":"bold","labelColor":"#000000","labelOffset":6,"labelLimit":0,"rowPadding":10,"padding":0}}}},
{"mark":{"type":"line","interpolate":"linear-closed","strokeWidth":4},"encoding":{"stroke":{"field":"m","type":"nominal","scale":{"domain":["FULL","CARS","VCPA-GA","VCPA-IRIV"],"range":["#EF4040","#1A6ADE","#3AAA6A","#B078E0"]},"legend":null},"order":{"field":"i","type":"quantitative"}}},
{"transform":[{"filter":"datum.m === 'FULL'"}],"mark":{"type":"point","shape":"square","filled":true,"opacity":1,"size":650,"color":"#EF4040","strokeWidth":0}},
{"transform":[{"filter":"datum.m === 'CARS'"}],"mark":{"type":"point","shape":"circle","filled":true,"opacity":1,"size":720,"color":"#1A6ADE","strokeWidth":0}},
{"transform":[{"filter":"datum.m === 'VCPA-GA'"}],"mark":{"type":"point","shape":"triangle-up","filled":true,"opacity":1,"size":900,"color":"#3AAA6A","strokeWidth":0}},
{"transform":[{"filter":"datum.m === 'VCPA-IRIV'"}],"mark":{"type":"point","shape":"triangle-down","filled":true,"opacity":1,"size":900,"color":"#B078E0","strokeWidth":0}}]}
]},
{"width":1348,"height":1243,
"encoding":{"x":{"field":"x","type":"quantitative","scale":{"domain":[-1.53915,1.47651],"nice":false,"zero":false},"axis":null},"y":{"field":"y","type":"quantitative","scale":{"domain":[-1.25106,1.39362],"nice":false,"zero":false},"axis":null}},
"layer":[
{"data":{"name":"axes"},"transform":[{"filter":"datum.p === 'e'"},{"flatten":["lv"]},{"joinaggregate":[{"op":"max","field":"lv","as":"g"}]},{"calculate":"datum.lv / datum.g * sin(datum.i * PI / 4)","as":"x"},{"calculate":"datum.lv / datum.g * cos(datum.i * PI / 4)","as":"y"}],"mark":{"type":"line","interpolate":"linear-closed","stroke":"#c6c6c6","strokeWidth":1.3},"encoding":{"detail":{"field":"lv","type":"nominal"},"order":{"field":"i","type":"quantitative"}}},
{"data":{"name":"axes"},"transform":[{"filter":"datum.p === 'e'"},{"calculate":"sin(datum.i * PI / 4)","as":"x"},{"calculate":"cos(datum.i * PI / 4)","as":"y"}],"mark":{"type":"rule","color":"#444444"},"encoding":{"x2":{"datum":0},"y2":{"datum":0},"strokeWidth":{"condition":{"test":"datum.i % 2 === 0","value":2.4},"value":1.3}}},
{"data":{"name":"ticks"},"transform":[{"filter":"datum.p === 'e'"},{"flatten":["t"]},{"calculate":"datum.p + ':' + datum.f","as":"id"},{"lookup":"id","from":{"data":{"name":"axes"},"key":"id","fields":["i","lo","hi"]}},{"calculate":"(toNumber(datum.t) - datum.lo) / (datum.hi - datum.lo)","as":"r"},{"calculate":"[-10,-10,0,10,11,10,0,-9][datum.i]","as":"ox"},{"calculate":"[0,-33,-33,-28,0,35,37,32][datum.i]","as":"oy"},{"calculate":"datum.r * sin(datum.i * PI / 4) + datum.ox / 447","as":"x"},{"calculate":"datum.r * cos(datum.i * PI / 4) - datum.oy / 470","as":"y"}],"encoding":{"text":{"field":"t","type":"nominal"}},"layer":[
{"transform":[{"filter":"datum.i === 0 || datum.i === 1 || datum.i === 7"}],"mark":{"type":"text","align":"right","baseline":"middle","font":"Liberation Serif","fontSize":39,"color":"#111111"}},
{"transform":[{"filter":"datum.i === 3 || datum.i === 4 || datum.i === 5"}],"mark":{"type":"text","align":"left","baseline":"middle","font":"Liberation Serif","fontSize":39,"color":"#111111"}},
{"transform":[{"filter":"datum.i === 2 || datum.i === 6"}],"mark":{"type":"text","align":"center","baseline":"middle","font":"Liberation Serif","fontSize":39,"color":"#111111"}}]},
{"data":{"name":"axes"},"transform":[{"filter":"datum.p === 'e'"},{"calculate":"[0,33,50,33,0,-31,-45,-31][datum.i]","as":"ox"},{"calculate":"[-72,-60,0,67,79,67,0,-58][datum.i]","as":"oy"},{"calculate":"sin(datum.i * PI / 4) + datum.ox / 447","as":"x"},{"calculate":"cos(datum.i * PI / 4) - datum.oy / 470","as":"y"}],"encoding":{"text":{"field":"name","type":"nominal"}},"layer":[
{"transform":[{"filter":"datum.i === 0"}],"mark":{"type":"text","align":"center","baseline":"middle","font":"Liberation Serif","fontSize":38,"fontWeight":"bold","color":"#000000"}},
{"transform":[{"filter":"datum.i === 4"}],"mark":{"type":"text","align":"center","baseline":"middle","font":"Liberation Serif","fontSize":38,"fontWeight":"bold","fontStyle":"italic","color":"#000000"}},
{"transform":[{"filter":"datum.i === 1 || datum.i === 2"}],"mark":{"type":"text","align":"left","baseline":"middle","font":"Liberation Serif","fontSize":38,"fontWeight":"bold","color":"#000000"}},
{"transform":[{"filter":"datum.i === 3"}],"mark":{"type":"text","align":"left","baseline":"middle","font":"Liberation Serif","fontSize":38,"fontWeight":"bold","fontStyle":"italic","color":"#000000"}},
{"transform":[{"filter":"datum.i === 6 || datum.i === 7"}],"mark":{"type":"text","align":"right","baseline":"middle","font":"Liberation Serif","fontSize":38,"fontWeight":"bold","color":"#000000"}},
{"transform":[{"filter":"datum.i === 5"}],"mark":{"type":"text","align":"right","baseline":"middle","font":"Liberation Serif","fontSize":38,"fontWeight":"bold","fontStyle":"italic","color":"#000000"}}]},
{"data":{"values":[{"t":"e"}]},"transform":[{"calculate":"-1.432","as":"x"},{"calculate":"1.22","as":"y"}],"mark":{"type":"text","font":"Liberation Serif","fontSize":84,"fontWeight":"bold","align":"center","baseline":"alphabetic","color":"#000000"},"encoding":{"text":{"field":"t","type":"nominal"}}},
{"data":{"name":"metrics"},"transform":[{"filter":"datum.p === 'e'"},{"fold":["RMSECV","RMSEP","RMSEC","R2c","R2cv","R2v","RPD","RMSEP/RMSEC"],"as":["f","v"]},{"calculate":"datum.p + ':' + datum.f","as":"id"},{"lookup":"id","from":{"data":{"name":"axes"},"key":"id","fields":["i","lo","hi"]}},{"calculate":"(datum.v - datum.lo) / (datum.hi - datum.lo)","as":"r"},{"calculate":"datum.r * sin(datum.i * PI / 4)","as":"x"},{"calculate":"datum.r * cos(datum.i * PI / 4)","as":"y"}],"layer":[
{"mark":{"type":"point","filled":true,"opacity":0,"size":4900},"encoding":{"fill":{"field":"m","type":"nominal","title":null,"scale":{"domain":["FULL","CARS","VCPA-GA","VCPA-IRIV"],"range":["#EF4040","#1A6ADE","#3AAA6A","#B078E0"]},"legend":{"orient":"none","legendX":1101,"legendY":25,"symbolSize":4900,"symbolStrokeWidth":0,"symbolOpacity":1,"clipHeight":32,"labelFont":"Liberation Serif","labelFontSize":32,"labelFontWeight":"bold","labelColor":"#000000","labelOffset":6,"labelLimit":0,"rowPadding":10,"padding":0}},"shape":{"field":"m","type":"nominal","title":null,"scale":{"domain":["FULL","CARS","VCPA-GA","VCPA-IRIV"],"range":["M-1,-0.057H1V0.057H-1Z M-0.36,-0.36H0.36V0.36H-0.36Z","M-1,-0.057H1V0.057H-1Z M-0.38,0A0.38,0.38 0 1,1 0.38,0A0.38,0.38 0 1,1 -0.38,0Z","M-1,-0.057H1V0.057H-1Z M0,-0.37L0.43,0.37L-0.43,0.37Z","M-1,-0.057H1V0.057H-1Z M0,0.37L-0.43,-0.37L0.43,-0.37Z"]},"legend":{"orient":"none","legendX":1101,"legendY":25,"symbolSize":4900,"symbolStrokeWidth":0,"symbolOpacity":1,"clipHeight":32,"labelFont":"Liberation Serif","labelFontSize":32,"labelFontWeight":"bold","labelColor":"#000000","labelOffset":6,"labelLimit":0,"rowPadding":10,"padding":0}}}},
{"mark":{"type":"line","interpolate":"linear-closed","strokeWidth":4},"encoding":{"stroke":{"field":"m","type":"nominal","scale":{"domain":["FULL","CARS","VCPA-GA","VCPA-IRIV"],"range":["#EF4040","#1A6ADE","#3AAA6A","#B078E0"]},"legend":null},"order":{"field":"i","type":"quantitative"}}},
{"transform":[{"filter":"datum.m === 'FULL'"}],"mark":{"type":"point","shape":"square","filled":true,"opacity":1,"size":650,"color":"#EF4040","strokeWidth":0}},
{"transform":[{"filter":"datum.m === 'CARS'"}],"mark":{"type":"point","shape":"circle","filled":true,"opacity":1,"size":720,"color":"#1A6ADE","strokeWidth":0}},
{"transform":[{"filter":"datum.m === 'VCPA-GA'"}],"mark":{"type":"point","shape":"triangle-up","filled":true,"opacity":1,"size":900,"color":"#3AAA6A","strokeWidth":0}},
{"transform":[{"filter":"datum.m === 'VCPA-IRIV'"}],"mark":{"type":"point","shape":"triangle-down","filled":true,"opacity":1,"size":900,"color":"#B078E0","strokeWidth":0}}]}
]}
]
}
